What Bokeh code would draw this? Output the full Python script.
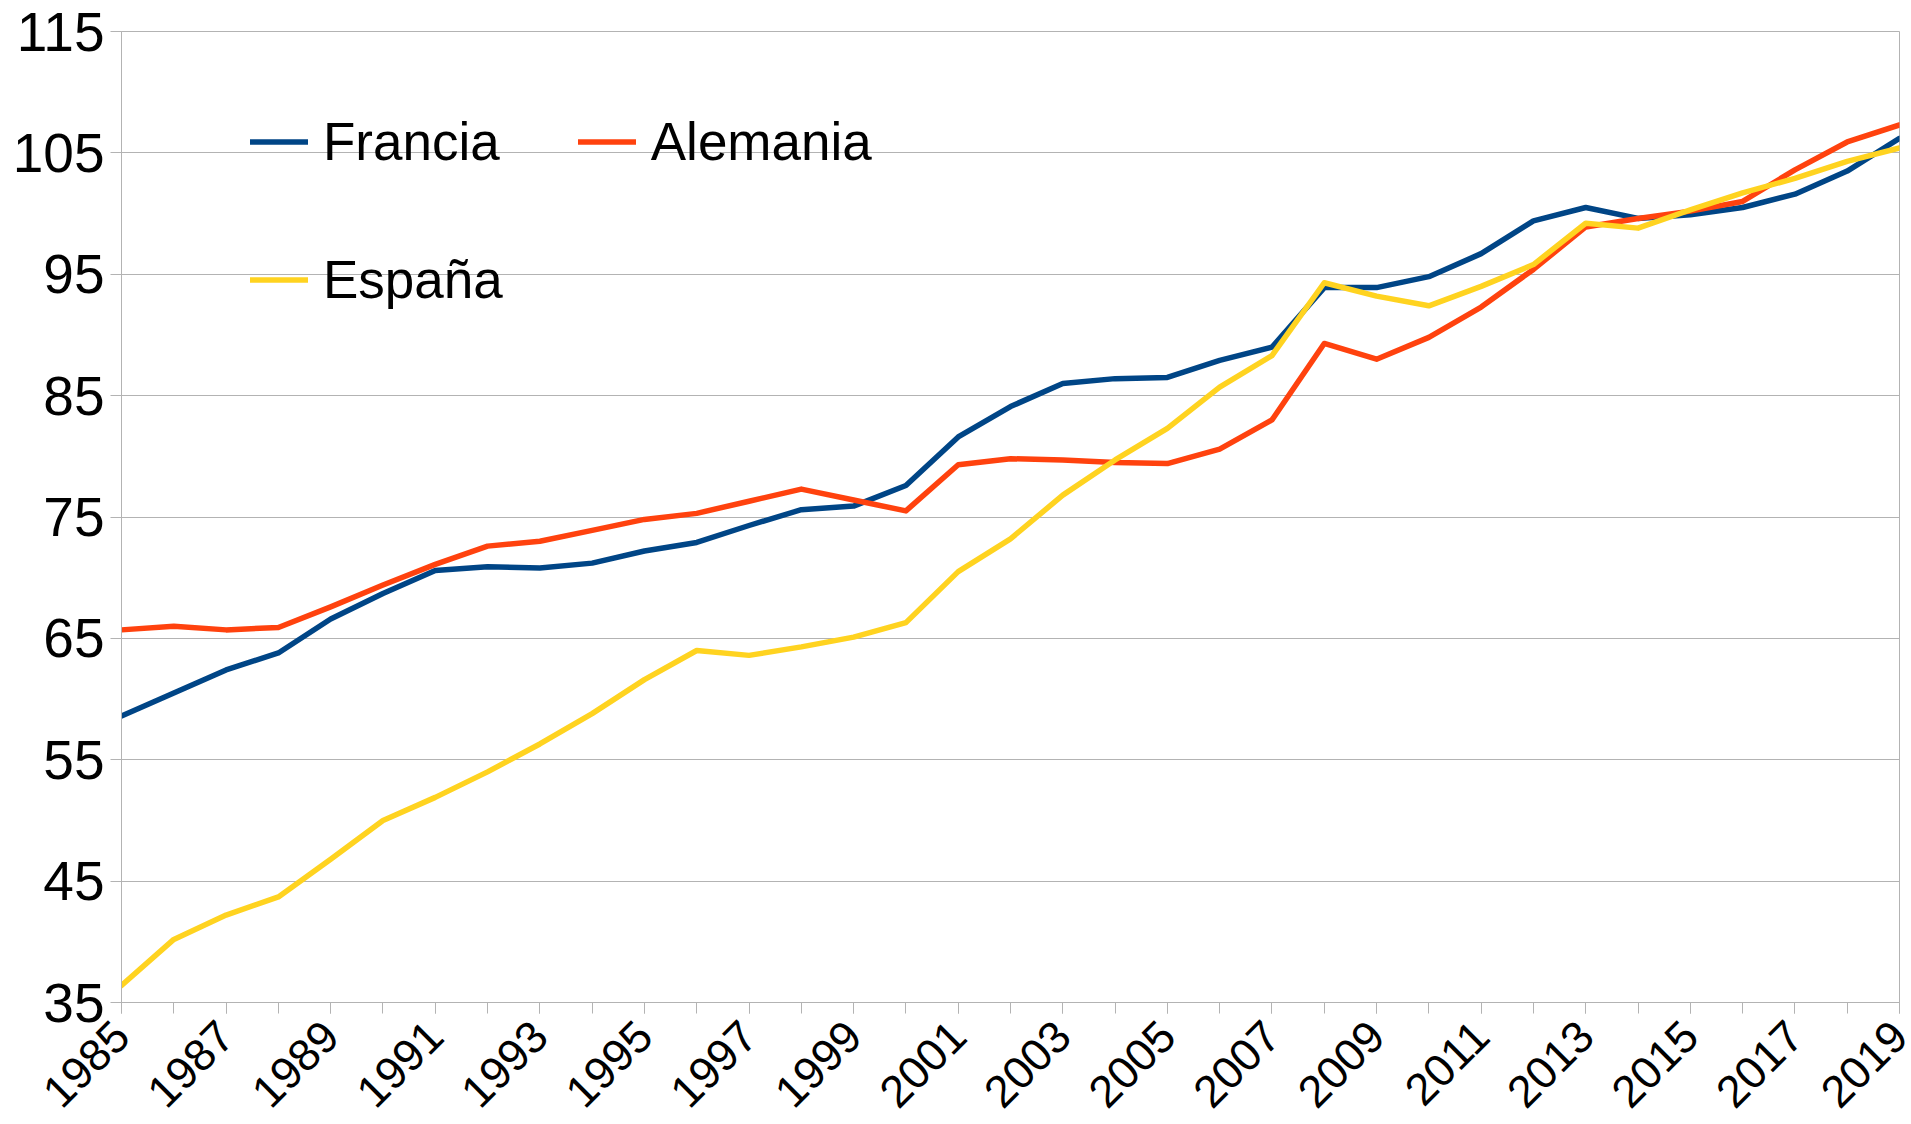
import math
from bokeh.plotting import figure
from bokeh.models import FixedTicker, Legend, Range1d
from bokeh.embed import file_html
from bokeh.resources import INLINE

years = list(range(1985, 2020))

francia = [58.6, 60.5, 62.4, 63.8, 66.6, 68.7, 70.6, 70.9, 70.8, 71.2,
           72.2, 72.9, 74.3, 75.6, 75.9, 77.6, 81.6, 84.1, 86.0, 86.4,
           86.5, 87.9, 89.0, 93.9, 93.9, 94.8, 96.7, 99.4, 100.5, 99.6,
           99.9, 100.5, 101.6, 103.5, 106.2]

alemania = [65.7, 66.0, 65.7, 65.9, 67.6, 69.4, 71.1, 72.6, 73.0, 73.9,
            74.8, 75.3, 76.3, 77.3, 76.4, 75.5, 79.3, 79.8, 79.7, 79.5,
            79.4, 80.6, 83.0, 89.3, 88.0, 89.8, 92.3, 95.4, 98.9, 99.6,
            100.2, 101.0, 103.6, 105.9, 107.3]

espana = [36.4, 40.2, 42.2, 43.7, 46.8, 50.0, 51.9, 54.0, 56.3, 58.8,
          61.6, 64.0, 63.6, 64.3, 65.1, 66.3, 70.5, 73.2, 76.8, 79.7,
          82.3, 85.7, 88.3, 94.3, 93.2, 92.4, 94.0, 95.8, 99.2, 98.8,
          100.3, 101.7, 102.9, 104.3, 105.4]

series_names = ["Francia", "Alemania", "España"]
series_colors = ["#004586", "#ff420e", "#ffd320"]

y_ticks = [35, 45, 55, 65, 75, 85, 95, 105, 115]
x_label_years = list(range(1985, 2020, 2))

FONT = "Liberation Sans"
GRID = "#b3b3b3"
Y_MIN, Y_MAX = 35, 115

p = figure(width=1911, height=1124, output_backend="svg", toolbar_location=None,
           x_range=Range1d(years[0], years[-1]), y_range=Range1d(Y_MIN, Y_MAX),
           min_border_left=121, min_border_right=12, min_border_top=31,
           min_border_bottom=122)
p.outline_line_color = GRID
p.outline_line_width = 1
p.background_fill_color = "white"
p.border_fill_color = "white"

renderers = []
for vals, name, col in zip([francia, alemania, espana], series_names, series_colors):
    r = p.line(years, vals, line_color=col, line_width=5.5, line_join="round", line_cap="round")
    renderers.append((name, [r]))

# axes: a tick every year, a label every second year
p.xaxis.ticker = FixedTicker(ticks=x_label_years, minor_ticks=years)
p.xaxis.major_label_overrides = {y: str(y) for y in x_label_years}
p.yaxis.ticker = FixedTicker(ticks=y_ticks)
for ax in (p.xaxis[0], p.yaxis[0]):
    ax.axis_line_color = GRID
    ax.axis_line_width = 1
    ax.major_tick_line_color = GRID
    ax.minor_tick_line_color = GRID
    ax.major_tick_in = 0
    ax.minor_tick_in = 0
    ax.major_tick_out = 11
    ax.minor_tick_out = 11
    ax.major_label_text_font = FONT
    ax.major_label_text_color = "black"
p.yaxis.major_label_text_font_size = "55px"
p.yaxis.major_label_standoff = 6
p.xaxis.major_label_text_font_size = "45px"
p.xaxis.major_label_orientation = math.pi / 4
p.xaxis.major_label_standoff = 15

p.xgrid.grid_line_color = None
p.ygrid.grid_line_color = GRID
p.ygrid.grid_line_width = 1

legend = Legend(items=renderers, location=(129, 691), orientation="horizontal", ncols=2,
                label_text_font=FONT, label_text_font_size="53px", label_text_color="black",
                glyph_width=58, glyph_height=63, label_height=63, label_standoff=15,
                spacing=75, padding=0, margin=0,
                border_line_alpha=0, background_fill_alpha=0)
p.add_layout(legend)

open("out.html", "w").write(file_html(p, INLINE))
